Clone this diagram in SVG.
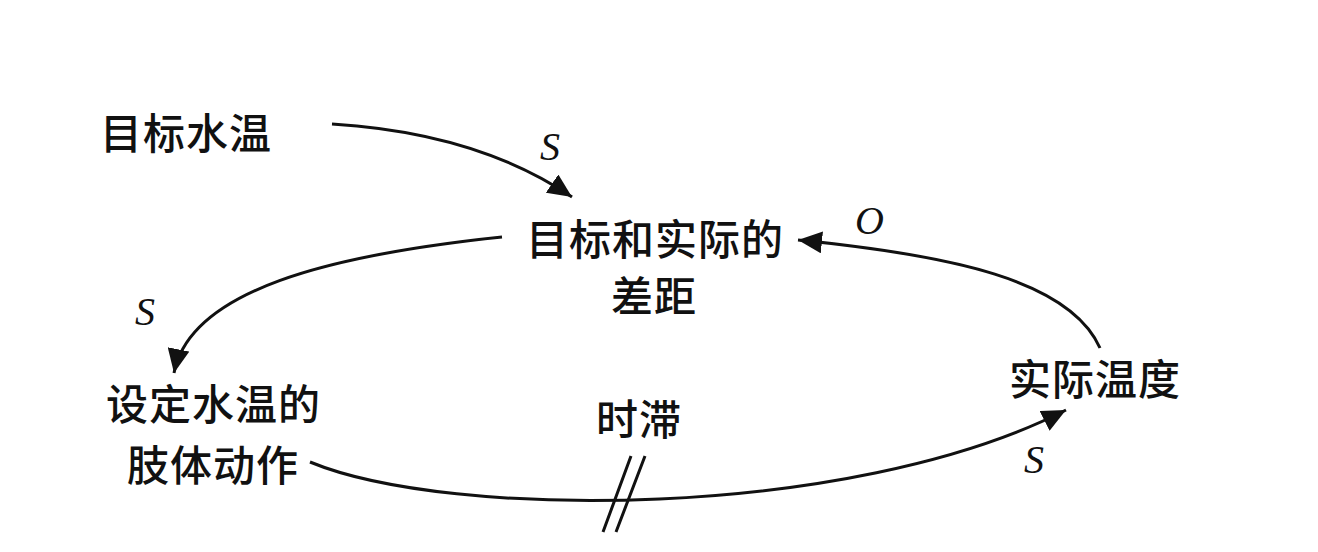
<svg xmlns="http://www.w3.org/2000/svg" width="1318" height="552" viewBox="0 0 1318 552">
<style>
.n{font-family:"Noto Sans CJK SC","Noto Sans",sans-serif;font-size:42px;font-weight:500;letter-spacing:1px;fill:#111}
.p{font-family:"Liberation Serif",serif;font-style:italic;font-size:40px;fill:#111}
.c{fill:none;stroke:#111;stroke-width:3}
</style>
<defs>
<marker id="ah" markerUnits="userSpaceOnUse" markerWidth="26" markerHeight="22" refX="24" refY="11" orient="auto">
<path d="M0,0 L24,11 L0,22 Z" fill="#111"/>
</marker>
</defs>
<rect width="1318" height="552" fill="#fff"/>
<g id="connectors">
<path class="c" d="M332,124 C430,130 510,155 572,197" marker-end="url(#ah)"/>
<path class="c" d="M502,237 C330,255 190,290 174,373" marker-end="url(#ah)"/>
<path class="c" d="M1100,348 C1070,280 950,255 798,240" marker-end="url(#ah)"/>
<path class="c" d="M310,462 C450,520 850,520 1066,410" marker-end="url(#ah)"/>
<path class="c" d="M603,532 L631,456 M616,532 L645,456" stroke-width="2"/>
</g>
<g id="n-target"><text class="n" x="100" y="149">目标水温</text></g>
<g id="n-gap"><text class="n" x="526" y="255">目标和实际的</text><text class="n" x="611" y="312">差距</text></g>
<g id="n-action"><text class="n" x="106" y="420">设定水温的</text><text class="n" x="127" y="481">肢体动作</text></g>
<g id="n-delay"><text class="n" x="596" y="435">时滞</text></g>
<g id="n-actual"><text class="n" x="1009" y="395">实际温度</text></g>
<g id="labels">
<text class="p" x="540" y="160">S</text>
<text class="p" x="135" y="325">S</text>
<text class="p" x="855" y="234">O</text>
<text class="p" x="1024" y="473">S</text>
</g>
</svg>
